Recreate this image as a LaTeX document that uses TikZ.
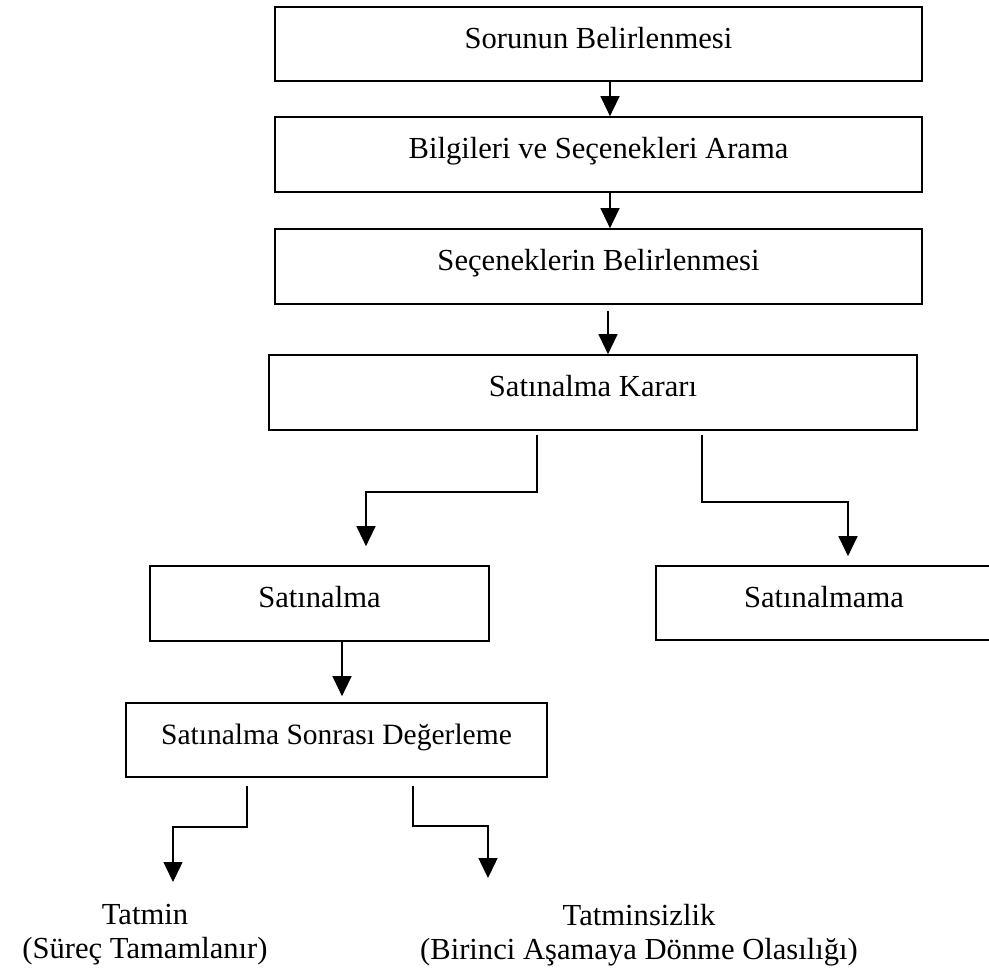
\documentclass[tikz,border=0pt]{standalone}
\usepackage{fontspec}
\setmainfont{Liberation Serif}
\usetikzlibrary{arrows.meta}
\begin{document}
\begin{tikzpicture}[x=1pt,y=-1pt,
  box/.style={draw, line width=1.7pt, rectangle, inner sep=0pt,
    text height=26pt, text depth=18pt, font=\fontsize{30.6}{34}\selectfont},
  conn/.style={line width=1.4pt, -{Triangle[length=20pt,width=19pt]}},
  lbl/.style={align=center, inner sep=0pt, anchor=north,
    font=\fontsize{30.6}{34}\selectfont}]
\useasboundingbox (0,0) rectangle (989,975);
\fill[white] (0,0) rectangle (989,975);
% boxes
\node[box, minimum width=647pt, minimum height=74pt] (b1) at (598.5,44) {Sorunun Belirlenmesi};
\node[box, minimum width=647pt, minimum height=75pt] (b2) at (598.5,154.5) {Bilgileri ve Seçenekleri Arama};
\node[box, minimum width=647pt, minimum height=75pt] (b3) at (598.5,266.5) {Seçeneklerin Belirlenmesi};
\node[box, minimum width=648pt, minimum height=75pt] (b4) at (593,392.5) {Satınalma Kararı};
\node[box, minimum width=339pt, minimum height=75pt] (b5) at (319.5,603.5) {Satınalma};
\node[box, minimum width=336pt, minimum height=74pt] (b6) at (824,603) {Satınalmama};
\node[box, minimum width=421pt, minimum height=74pt, font=\fontsize{29.5}{34}\selectfont] (b7) at (336.5,740) {Satınalma Sonrası Değerleme};
% labels
\node[lbl] (t1) at (145,904) {Tatmin\\(Süreç Tamamlanır)};
\node[lbl] (t2) at (639,904) {Tatminsizlik\\(Birinci Aşamaya Dönme Olasılığı)};
\coordinate (e1) at (173,882);
\coordinate (e2) at (488,878);
% connectors
\draw[conn] ([xshift=11.5pt]b1.south) -- ([xshift=11.5pt]b2.north);
\draw[conn] ([xshift=11.5pt]b2.south) -- ([xshift=11.5pt]b3.north);
\draw[conn] ([xshift=9.5pt,yshift=-6pt]b3.south) -- ([xshift=15pt]b4.north);
\draw[conn, shorten >=19pt] ([xshift=-56pt,yshift=-4pt]b4.south) -- ++(0,57) -| ([xshift=46.5pt]b5.north);
\draw[conn, shorten >=9pt] ([xshift=109pt,yshift=-4pt]b4.south) -- ++(0,67) -| ([xshift=24pt]b6.north);
\draw[conn, shorten >=6pt] ([xshift=22.5pt]b5.south) -- ([xshift=5.5pt]b7.north);
\draw[conn] ([xshift=-89.5pt,yshift=-8pt]b7.south) -- ++(0,41) -| (e1);
\draw[conn] ([xshift=76.5pt,yshift=-8pt]b7.south) -- ++(0,40) -| (e2);
\end{tikzpicture}
\end{document}
